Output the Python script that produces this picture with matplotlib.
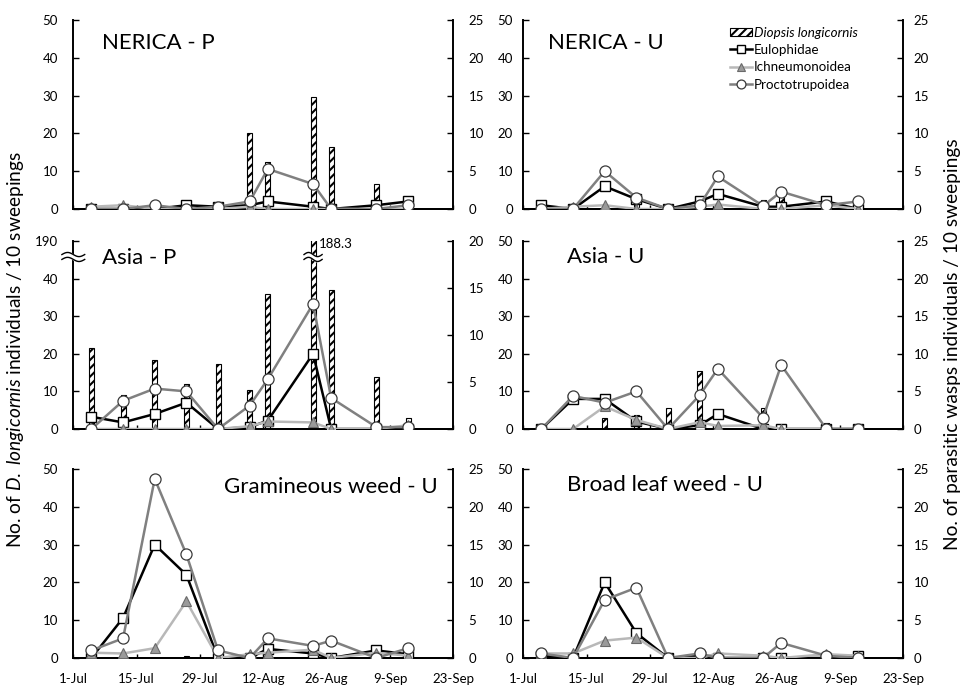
import numpy as np
import pandas as pd
import matplotlib
matplotlib.use('Agg')
import matplotlib.pyplot as plt
import matplotlib.dates as mdates
import matplotlib.transforms as mtransforms
from matplotlib.lines import Line2D
from matplotlib.patches import Patch

plt.rcParams['font.family'] = ['Lato', 'DejaVu Sans']
plt.rcParams['mathtext.fontset'] = 'custom'
plt.rcParams['mathtext.rm'] = 'Lato'
plt.rcParams['mathtext.it'] = 'Lato:italic'
plt.rcParams['hatch.linewidth'] = 1.5

# sampling dates
dates = pd.to_datetime(['2015-07-05', '2015-07-12', '2015-07-19', '2015-07-26',
                        '2015-08-02', '2015-08-09', '2015-08-13', '2015-08-23',
                        '2015-08-27', '2015-09-06', '2015-09-13'])
tick_dates = pd.date_range('2015-07-01', '2015-09-23', freq='14D')

# NERICA - P
nerica_p_dio = [0.5, 0.5, 0, 1.5, 0, 20, 12.5, 29.7, 16.5, 6.5, 0.5]
nerica_p_eul = [0, 0, 0, 0.5, 0.3, 0.5, 1.0, 0.3, 0, 0.5, 1.0]
nerica_p_ich = [0.3, 0.5, 0, 0, 0, 0.3, 0, 0, 0, 0, 0]
nerica_p_pro = [0, 0, 0.5, 0, 0.3, 1.0, 5.3, 3.3, 0, 0, 0.5]

# NERICA - U
nerica_u_dio = [0, 0, 0, 1.5, 0, 0, 0, 2.5, 3.5, 0, 0]
nerica_u_eul = [0.5, 0, 3.0, 1.3, 0, 1.0, 2.0, 0.3, 0.3, 1.0, 0]
nerica_u_ich = [0, 0.3, 0.5, 0, 0, 0.3, 0.6, 0, 0, 0.5, 0]
nerica_u_pro = [0, 0, 5.0, 1.5, 0, 0.5, 4.3, 0.4, 2.3, 0.5, 1.0]

# Asia - P
asia_p_dio = [21.5, 9, 18.3, 12, 17.3, 10.3, 36, 188.3, 37, 13.8, 3]
asia_p_eul = [1.3, 0.7, 1.6, 2.8, 0, 0.2, 0.9, 8.0, 0, 0, 0]
asia_p_ich = [0, 0, 0, 0, 0, 0.3, 0.8, 0.7, 0, 0, 0.4]
asia_p_pro = [0, 3.0, 4.3, 4.0, 0, 2.5, 5.3, 13.3, 3.3, 0.2, 0.2]

# Asia - U
asia_u_dio = [0, 0, 3, 3.7, 5.5, 15.5, 0, 5.5, 0, 1.5, 0]
asia_u_eul = [0, 4.0, 4.0, 1.0, 0, 0.5, 2.0, 0, 0, 0, 0]
asia_u_ich = [0, 0, 3.0, 1.2, 0, 0.9, 0.4, 0.5, 0, 0, 0]
asia_u_pro = [0, 4.4, 3.5, 5.0, 0, 4.5, 8.0, 1.5, 8.5, 0, 0]

# Gramineous weed - U
gram_dio = [0, 0, 0, 0.5, 0, 0, 0, 0, 0, 0, 0]
gram_eul = [0, 5.3, 15.0, 11.0, 0, 0, 1.2, 0.6, 0, 1.0, 0.5]
gram_ich = [0.7, 0.6, 1.3, 7.5, 0, 0.5, 0.7, 1.1, 0, 0.7, 0.3]
gram_pro = [1.0, 2.6, 23.7, 13.7, 1.0, 0, 2.6, 1.6, 2.3, 0, 1.3]

# Broad leaf weed - U
broad_dio = [0, 0, 0, 0, 0, 0, 0, 0, 1, 0, 0]
broad_eul = [0.3, 0, 10.0, 3.3, 0, 0.3, 0, 0, 0, 0, 0.3]
broad_ich = [0.6, 0.6, 2.3, 2.7, 0, 0, 0.6, 0.3, 0, 0.5, 0.3]
broad_pro = [0.6, 0, 7.7, 9.3, 0, 0.6, 0, 0, 2.0, 0.3, 0]

EUL_STYLE = dict(color='black', lw=1.8, marker='s', ms=7, mfc='white', mec='black', mew=1.0)
ICH_STYLE = dict(color='#b8b8b8', lw=1.8, marker='^', ms=7, mfc='#9a9a9a', mec='#6a6a6a', mew=0.8)
PRO_STYLE = dict(color='#808080', lw=1.8, marker='o', ms=8, mfc='white', mec='#3a3a3a', mew=0.9)

fig = plt.figure(figsize=(9.63, 6.85), dpi=100)

W = 380 / 963
col_x = [73.3 / 963, 523.3 / 963]
row_y = [(1 - 209 / 685, 189 / 685), (1 - 429 / 685, 188 / 685), (1 - 658 / 685, 189 / 685)]
ypad = [11, 7.5]

panels = [
    (0, 0, 'NERICA - P', nerica_p_dio, nerica_p_eul, nerica_p_ich, nerica_p_pro, (0.0755, 0.878, 'left')),
    (0, 1, 'NERICA - U', nerica_u_dio, nerica_u_eul, nerica_u_ich, nerica_u_pro, (0.065, 0.878, 'left')),
    (1, 0, 'Asia - P', asia_p_dio, asia_p_eul, asia_p_ich, asia_p_pro, (0.0755, 0.91, 'left')),
    (1, 1, 'Asia - U', asia_u_dio, asia_u_eul, asia_u_ich, asia_u_pro, (0.115, 0.915, 'left')),
    (2, 0, 'Gramineous weed - U', gram_dio, gram_eul, gram_ich, gram_pro, (0.96, 0.905, 'right')),
    (2, 1, 'Broad leaf weed - U', broad_dio, broad_eul, broad_ich, broad_pro, (0.115, 0.915, 'left')),
]

xmin = pd.Timestamp('2015-07-01')
xmax = pd.Timestamp('2015-09-23')

axes = {}
for r, c, title, dio, eul, ich, pro, (tx, ty, ha) in panels:
    bottom, height = row_y[r]
    ax = fig.add_axes([col_x[c], bottom, W, height])
    ax.bar(dates, dio, width=1.1, color='white', edgecolor='black', hatch='////', lw=0.8)
    ax.set_ylim(0, 50)
    ax.set_yticks([0, 10, 20, 30, 40, 50])
    ax.set_xlim(xmin, xmax)

    ax2 = ax.twinx()
    ax2.plot(dates, eul, **EUL_STYLE, zorder=3)
    ax2.plot(dates, ich, **ICH_STYLE, zorder=4)
    ax2.plot(dates, pro, **PRO_STYLE, zorder=5)
    if r == 1 and c == 0:
        ax2.set_ylim(0, 20)
        ax2.set_yticks([0, 5, 10, 15, 20])
        ax.set_yticklabels(['0', '10', '20', '30', '40', '190'])
    else:
        ax2.set_ylim(0, 25)
        ax2.set_yticks([0, 5, 10, 15, 20, 25])
    ax2.set_xlim(xmin, xmax)

    for a in (ax, ax2):
        a.spines['top'].set_visible(False)
        for s in ('left', 'right', 'bottom'):
            a.spines[s].set_linewidth(1.4)
        a.tick_params(axis='y', direction='in', length=4, width=1.0, labelsize=9.5, pad=ypad[c])
        a.tick_params(axis='x', direction='in', length=3, width=1.0, labelsize=9.5, pad=11)
        a.set_xticks(tick_dates)
        a.xaxis.set_major_formatter(mdates.DateFormatter('%-d-%b'))
        if r < 2:
            a.tick_params(axis='x', labelbottom=False)
    ax.spines['right'].set_visible(False)
    ax2.spines['left'].set_visible(False)

    ax.text(tx, ty, title, transform=ax.transAxes, fontsize=16, ha=ha, va='center')
    axes[(r, c)] = (ax, ax2)

# axis break on Asia - P
ax, ax2 = axes[(1, 0)]
t = np.linspace(0, 1, 60)
wave = 0.011 * np.sin(2 * np.pi * t)
gap = 0.013
xs = -0.03 + 0.06 * t
ax.fill_between(xs, 0.915 + wave - gap, 0.915 + wave + gap, color='white',
                transform=ax.transAxes, clip_on=False, zorder=6)
ax.plot(xs, 0.915 + wave - gap, color='black', lw=1.0, transform=ax.transAxes, clip_on=False, zorder=7)
ax.plot(xs, 0.915 + wave + gap, color='black', lw=1.0, transform=ax.transAxes, clip_on=False, zorder=7)

peak = dates[int(np.argmax(asia_p_dio))]
bt = mtransforms.blended_transform_factory(ax.transData, ax.transAxes)
px = mdates.date2num(peak) + np.linspace(-2.0, 2.0, 60)
ax.fill_between(px, 0.915 + wave - gap, 0.915 + wave + gap, color='white', transform=bt, zorder=6)
ax.plot(px, 0.915 + wave - gap, color='black', lw=1.0, transform=bt, zorder=7)
ax.plot(px, 0.915 + wave + gap, color='black', lw=1.0, transform=bt, zorder=7)
ax.annotate('%.1f' % max(asia_p_dio), xy=(mdates.date2num(peak), 0.985), xycoords=bt,
            xytext=(4, 0), textcoords='offset points', fontsize=9.5, ha='left', va='center')

# legend in NERICA - U
ax, ax2 = axes[(0, 1)]
handles = [Patch(facecolor='white', edgecolor='black', hatch='////', lw=0.8),
           Line2D([], [], **EUL_STYLE),
           Line2D([], [], **ICH_STYLE),
           Line2D([], [], **PRO_STYLE)]
labels = ['Diopsis longicornis', 'Eulophidae', 'Ichneumonoidea', 'Proctotrupoidea']
leg = ax2.legend(handles, labels, loc='upper left', bbox_to_anchor=(0.545, 0.965),
                 frameon=False, fontsize=9.6, handlelength=1.6, handletextpad=0.15,
                 labelspacing=0.4, borderpad=0, borderaxespad=0, handleheight=0.6,
                 markerscale=0.8)
leg.get_texts()[0].set_fontstyle('italic')

fig.text(0.0156, 0.489, r'No. of $\it{D.\ longicornis}$ individuals / 10 sweepings',
         rotation=90, ha='center', va='center', fontsize=13.8)
fig.text(0.9896, 0.497, 'No. of parasitic wasps individuals / 10 sweepings',
         rotation=90, ha='center', va='center', fontsize=13.8)

fig.savefig('out.png', dpi=100)
